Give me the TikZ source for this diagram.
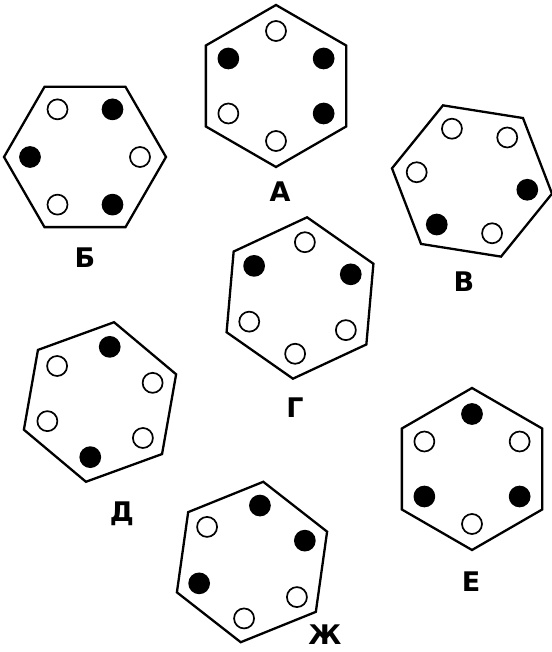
\documentclass[tikz,border=0pt]{standalone}
\usepackage{fontspec}
\setsansfont{DejaVu Sans}
\usepackage{tikz}
\usetikzlibrary{shapes.geometric}

\begin{document}
\begin{tikzpicture}[
  x=0.5pt, y=0.5pt,
  font=\sffamily\bfseries\fontsize{13.5}{16}\selectfont,
  hexa/.style={draw=black, line width=1.15pt, regular polygon,
    regular polygon sides=6, minimum size=81pt, inner sep=0pt},
  dotopen/.style={circle, draw=black, line width=0.85pt, fill=white,
    minimum size=10pt, inner sep=0pt},
  dotfull/.style={dotopen, fill=black},
  lbl/.style={inner sep=0pt},
]
\useasboundingbox (0,0) rectangle (551,652);

% top row
\node[hexa, rotate=30] (hexA) at (276,566) {};
\foreach \a/\s in {90/dotopen, 150/dotfull, 30/dotfull,
                   210/dotopen, 330/dotfull, 270/dotopen}
  \node[\s] (A\a) at ([shift={(\a:55)}]hexA.center) {};
\node[lbl] (labA) at (280,460) {А};

\node[hexa] (hexB) at (85,495) {};
\foreach \a/\s in {120/dotopen, 60/dotfull, 180/dotfull,
                   0/dotopen, 240/dotopen, 300/dotfull}
  \node[\s] (B\a) at ([shift={(\a:55)}]hexB.center) {};
\node[lbl] (labB) at (85,394) {Б};

\node[hexa, rotate=51] (hexV) at (472,471) {};
\foreach \a/\s in {51/dotopen, 111/dotopen, 171/dotopen,
                   231/dotfull, 291/dotopen, 351/dotfull}
  \node[\s] (V\a) at ([shift={(\a:56)}]hexV.center) {};
\node[lbl] (labV) at (464,370) {В};

% middle
\node[hexa, rotate=25] (hexG) at (300,354) {};
\foreach \a/\s in {85/dotopen, 145/dotfull, 25/dotfull,
                   205/dotopen, 325/dotopen, 265/dotopen}
  \node[\s] (G\a) at ([shift={(\a:56)}]hexG.center) {};
\node[lbl] (labG) at (295,244) {Г};

\node[hexa, rotate=20] (hexD) at (100,250) {};
\foreach \a/\s in {80/dotfull, 140/dotopen, 20/dotopen,
                   200/dotopen, 320/dotopen, 260/dotfull}
  \node[\s] (D\a) at ([shift={(\a:56)}]hexD.center) {};
\node[lbl] (labD) at (122,138) {Д};

% bottom
\node[hexa, rotate=30] (hexE) at (472,183) {};
\foreach \a/\s in {90/dotfull, 150/dotopen, 30/dotopen,
                   210/dotfull, 330/dotfull, 270/dotopen}
  \node[\s] (E\a) at ([shift={(\a:55)}]hexE.center) {};
\node[lbl] (labE) at (471,70) {Е};

\node[hexa, rotate=22] (hexZh) at (252,90) {};
\foreach \a/\s in {82/dotfull, 142/dotopen, 22/dotfull,
                   202/dotfull, 322/dotopen, 262/dotopen}
  \node[\s] (Zh\a) at ([shift={(\a:57)}]hexZh.center) {};
\node[lbl] (labZh) at (325,17) {Ж};
\end{tikzpicture}
\end{document}
